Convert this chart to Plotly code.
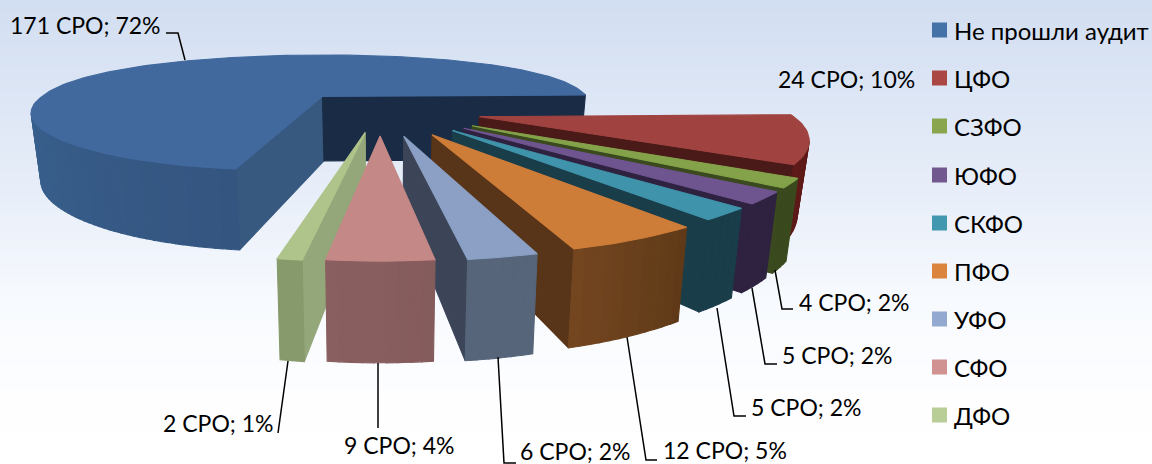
import math
import plotly.graph_objects as go

categories = ["Не прошли аудит", "ЦФО", "СЗФО", "ЮФО", "СКФО", "ПФО", "УФО", "СФО", "ДФО"]
values = [171, 24, 4, 5, 5, 12, 6, 9, 2]
percents = [72, 10, 2, 2, 2, 5, 2, 4, 1]
top_colors = ["#41699E", "#A04340", "#84A24A", "#6F5590", "#3F93AA", "#CE7D38", "#8BA0C4", "#C48886", "#AEC48A"]
legend_colors = ["#4573A7", "#AA4644", "#89A54E", "#71588F", "#4298AF", "#DB843D", "#93A9CF", "#D19392", "#B9CD96"]
radial_colors = ["#1A2C45", "#4A1A18", "#3A4A1E", "#2E2240", "#1A3D4A", "#583418", "#3C4558", "#8A5F5F", "#94A77A"]
wall_left = ["#3A6390", "#5E1A18", "#3A4A1E", "#2E2240", "#1A3D4A", "#744620", "#566579", "#8A5F5F", "#879A6B"]
wall_right = ["#345580", "#5E1A18", "#3A4A1E", "#2E2240", "#1A3D4A", "#5F3A18", "#566579", "#855C5C", "#879A6B"]
explode = [0.30, 0.33, 0.36, 0.36, 0.36, 0.37, 0.36, 0.35, 0.31]
reach_y = [1.015, 1, 1, 1, 1, 1, 1.01, 1.015, 1.06]
reach_x = [1, 1, 1, 1, 1, 1, 1, 1, 1.05]
first_angle = 189.8

# label text position (x, y, anchor), in the order of the categories
label_pos = [(8, 25, "left"), (776, 79, "left"), (797, 302, "left"), (780, 355, "left"),
             (749, 407, "left"), (661, 450, "left"), (518, 451, "left"), (342, 445, "left"), (161, 423, "left")]
leaders = [
    [(166, 33), (178, 33), (185, 60)],
    None,
    [(775, 270), (782, 309), (793, 309)],
    [(752, 288), (765, 364), (777, 364)],
    [(717, 308), (734, 416), (746, 416)],
    [(627, 337), (646, 460), (657, 460)],
    [(498, 357), (504, 463), (516, 463)],
    [(378, 363), (378, 428)],
    [(288, 361), (278, 433)],
]
legend_y = [30, 78, 126, 175, 223, 271, 319, 367, 415]

W, H = 1152, 464
X0 = 380.0


def project(x, y):
    d = 0.01508 - 0.0033 * y - 0.000295 * y * y
    m = 1.0 / d
    return X0 + 4.64 * m * x, -189.0 + m / 0.2216, m


def top(x, y):
    sx, sy, _ = project(x, y)
    return sx, sy


def bottom(x, y):
    sx, sy, m = project(x, y)
    return X0 + (sx - X0) * 0.972, sy + m * 1.02


def hex2rgb(c):
    return tuple(int(c[i:i + 2], 16) for i in (1, 3, 5))


def mix(a, b, t):
    ra, rb = hex2rgb(a), hex2rgb(b)
    return "rgb(%d,%d,%d)" % tuple(round(ra[i] + (rb[i] - ra[i]) * t) for i in range(3))


fig = go.Figure()


def poly(points, color):
    xs = [p[0] for p in points] + [points[0][0]]
    ys = [p[1] for p in points] + [points[0][1]]
    fig.add_trace(go.Scatter(x=xs, y=ys, mode="lines", fill="toself", fillcolor=color,
                             line=dict(color=color, width=1.1), hoverinfo="skip", showlegend=False))


total = sum(values)
spans = []
a = first_angle
for v in values:
    spans.append((a, a + v / total * 360.0))
    a += v / total * 360.0


def radius(i, th):
    if i == 0:
        return 0.9275 - 0.0275 * math.sin(th)
    return 1.0


def rim(i, deg, off):
    th = math.radians(deg)
    r = radius(i, th)
    x = r * math.sin(th) * reach_x[i]
    y = -r * math.cos(th)
    if y > 0:
        y *= reach_y[i]
    if i == 0 and y > 0:
        x -= 0.04 * y
    return off[0] + x, off[1] + y


draw_order = [0, 1, 2, 3, 4, 5, 6, 8, 7]
for i in draw_order:
    a0, a1 = spans[i]
    mid = math.radians((a0 + a1) / 2)
    off = (explode[i] * math.sin(mid), -explode[i] * math.cos(mid))
    n = max(2, int((a1 - a0) / 1.5))
    angles = [a0 + (a1 - a0) * k / n for k in range(n + 1)]
    rim_pts = [rim(i, d, off) for d in angles]
    apex_scr = top(*off)

    # radial walls, only those facing the viewer
    for edge, sign in ((a0, 1), (a1, -1)):
        p = rim(i, edge, off)
        q = rim(i, edge + sign * 6, off)
        qin = top(off[0] + (q[0] - off[0]) * 0.5, off[1] + (q[1] - off[1]) * 0.5)
        e = top(*p)
        dx = e[0] - apex_scr[0]
        line_y = apex_scr[1] + (e[1] - apex_scr[1]) * ((qin[0] - apex_scr[0]) / dx) if abs(dx) > 1e-6 else -1e9
        if qin[1] < line_y:
            col = radial_colors[i]
            if i == 0 and edge == a0:
                col = "#37587F"
            poly([apex_scr, e, bottom(*p), bottom(*off)], col)

    # outer wall strips
    cx, cy = top(*off)
    for k in range(n):
        p1, p2 = rim_pts[k], rim_pts[k + 1]
        s1, s2 = top(*p1), top(*p2)
        ex, ey = s2[0] - s1[0], s2[1] - s1[1]
        nx, ny = ey, -ex
        if nx * ((s1[0] + s2[0]) / 2 - cx) + ny * ((s1[1] + s2[1]) / 2 - cy) < 0:
            nx, ny = -nx, -ny
        if ny <= 0:
            continue
        frac = 1 - (k + 0.5) / n
        if i == 0:
            frac = max(0.0, 1 - (angles[k] - a0) / 80.0)
        poly([s1, s2, bottom(*p2), bottom(*p1)], mix(wall_left[i], wall_right[i], frac))

    # top surface
    poly([apex_scr] + [top(*p) for p in rim_pts], top_colors[i])

# legend markers
fig.add_trace(go.Scatter(x=[939.5] * len(categories), y=legend_y, mode="markers",
                         marker=dict(symbol="square", size=15, color=legend_colors, line=dict(width=0)),
                         hoverinfo="skip", showlegend=False))

annotations = []
for i, c in enumerate(categories):
    annotations.append(dict(x=952, y=legend_y[i], text=c, showarrow=False, xanchor="left", yanchor="middle",
                            xref="x", yref="y", font=dict(family="Lato", size=24, color="#000000")))
    lx, ly, anc = label_pos[i]
    annotations.append(dict(x=lx, y=ly, text=f"{values[i]} СРО; {percents[i]}%", showarrow=False,
                            xanchor=anc, yanchor="middle", xref="x", yref="y",
                            font=dict(family="Lato", size=23, color="#000000")))

shapes = []
stops = [(0, (210, 222, 241)), (100, (221, 230, 245)), (200, (233, 239, 249)),
         (300, (247, 250, 254)), (400, (254, 254, 255)), (464, (255, 255, 255))]


def bg(y):
    for (y0, c0), (y1, c1) in zip(stops, stops[1:]):
        if y <= y1:
            t = (y - y0) / (y1 - y0)
            return "rgb(%d,%d,%d)" % tuple(round(c0[j] + (c1[j] - c0[j]) * t) for j in range(3))
    return "rgb(255,255,255)"


for y in range(0, H, 4):
    shapes.append(dict(type="rect", xref="x", yref="y", x0=0, x1=W, y0=y, y1=y + 4, layer="below",
                       fillcolor=bg(y + 2), line=dict(width=0)))
for pts in leaders:
    if pts:
        path = "M " + " L ".join(f"{x},{y}" for x, y in pts)
        shapes.append(dict(type="path", path=path, xref="x", yref="y", layer="above",
                           line=dict(color="#000000", width=1.5)))

fig.update_layout(
    width=W, height=H, margin=dict(l=0, r=0, t=0, b=0), autosize=False,
    paper_bgcolor="white", plot_bgcolor="rgba(0,0,0,0)", showlegend=False,
    xaxis=dict(range=[0, W], visible=False, fixedrange=True),
    yaxis=dict(range=[H, 0], visible=False, fixedrange=True),
    shapes=shapes, annotations=annotations,
)
fig.write_html("out.html", post_script="document.body.style.margin='0';document.body.style.overflow='hidden';",
               config={"displayModeBar": False})
